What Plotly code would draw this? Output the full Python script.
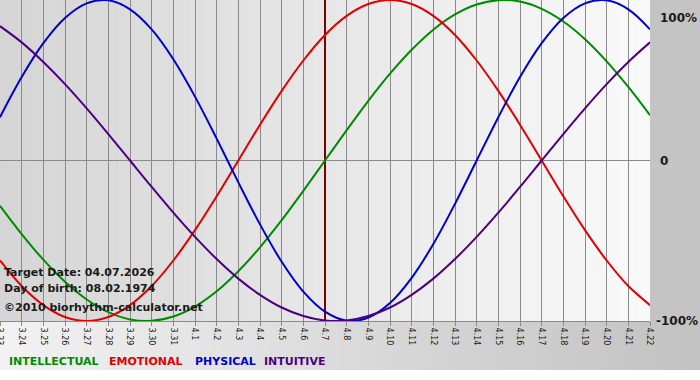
import plotly.graph_objects as go

days = ["3.23", "3.24", "3.25", "3.26", "3.27", "3.28", "3.29", "3.30", "3.31",
        "4.1", "4.2", "4.3", "4.4", "4.5", "4.6", "4.7", "4.8", "4.9", "4.10",
        "4.11", "4.12", "4.13", "4.14", "4.15", "4.16", "4.17", "4.18", "4.19",
        "4.20", "4.21", "4.22"]

physical = [0.270, 0.520, 0.731, 0.888, 0.979, 0.998, 0.942, 0.817, 0.631, 0.398,
            0.136, -0.136, -0.398, -0.631, -0.817, -0.942, -0.998, -0.979, -0.888,
            -0.731, -0.520, -0.270, 0.000, 0.270, 0.520, 0.731, 0.888, 0.979, 0.998,
            0.942, 0.817]

emotional = [-0.623, -0.782, -0.901, -0.975, -1.000, -0.975, -0.901, -0.782, -0.623,
             -0.434, -0.223, 0.000, 0.223, 0.434, 0.623, 0.782, 0.901, 0.975, 1.000,
             0.975, 0.901, 0.782, 0.623, 0.434, 0.223, 0.000, -0.223, -0.434, -0.623,
             -0.782, -0.901]

intellectual = [-0.282, -0.458, -0.618, -0.756, -0.866, -0.945, -0.990, -0.999, -0.972,
                -0.910, -0.815, -0.690, -0.541, -0.372, -0.189, 0.000, 0.189, 0.372,
                0.541, 0.690, 0.815, 0.910, 0.972, 0.999, 0.990, 0.945, 0.866, 0.756,
                0.618, 0.458, 0.282]

intuitive = [0.837, 0.736, 0.614, 0.476, 0.325, 0.165, 0.000, -0.165, -0.325, -0.476,
             -0.614, -0.736, -0.837, -0.916, -0.969, -0.997, -0.997, -0.969, -0.916,
             -0.837, -0.736, -0.614, -0.476, -0.325, -0.165, 0.000, 0.165, 0.325,
             0.476, 0.614, 0.736]

target_label = "4.7"
target_text = "Target Date: 04.07.2026"
birth_text = "Day of birth: 08.02.1974"
credit_text = "\u00a92010 biorhythm-calculator.net"
y_labels = ["100%", "0", "-100%"]
legend_names = ["INTELLECTUAL", "EMOTIONAL", "PHYSICAL", "INTUITIVE"]
colors = {"INTELLECTUAL": "#008a00", "EMOTIONAL": "#e00000",
          "PHYSICAL": "#0000cc", "INTUITIVE": "#4b0082"}

W, H = 700, 380
ML, MR, MT, MB = 0, 50, 0, 59
PW, PH = W - ML - MR, H - MT - MB

x = list(range(len(days)))
n = len(days) - 1

fig = go.Figure()
series = [("INTELLECTUAL", intellectual), ("EMOTIONAL", emotional),
          ("PHYSICAL", physical), ("INTUITIVE", intuitive)]
for name, vals in series:
    fig.add_trace(go.Scatter(x=x, y=vals, mode="lines", name=name,
                             line=dict(color=colors[name], width=2, shape="spline", smoothing=1.0),
                             hoverinfo="skip", showlegend=False))

shapes = []


def lerp(c0, c1, t):
    return int(round(c0 + (c1 - c0) * t))


# plot area gradient (gray left -> white right)
NS = 60
for k in range(NS):
    t = (k + 0.5) / NS
    g = lerp(213, 249, t)
    shapes.append(dict(type="rect", xref="x", yref="paper",
                       x0=n * k / NS, x1=n * (k + 1) / NS + 0.02, y0=0, y1=1,
                       fillcolor=f"rgb({g},{g},{g})", line=dict(width=0), layer="below"))

# right gray panel
shapes.append(dict(type="rect", xref="paper", yref="paper", x0=1, x1=W / PW + 0.01,
                   y0=0, y1=1.01, fillcolor="#c4c4c4", line=dict(width=0), layer="below"))

# bottom strip gradient (light left -> gray right)
strip_bottom = -49 / PH
for k in range(NS):
    t = (k + 0.5) / NS
    g = lerp(242, 194, t)
    x0 = (W / PW) * k / NS
    x1 = (W / PW) * (k + 1) / NS + 0.002
    shapes.append(dict(type="rect", xref="paper", yref="paper", x0=x0, x1=x1,
                       y0=strip_bottom, y1=0, fillcolor=f"rgb({g},{g},{g})",
                       line=dict(width=0), layer="below"))

# target date line
ti = days.index(target_label)
shapes.append(dict(type="line", xref="x", yref="y", x0=ti, x1=ti, y0=-1, y1=1,
                   line=dict(color="#800000", width=2), layer="between"))

annotations = []
txt_font = dict(family="DejaVu Sans", size=11, color="#1a1a1a")
for txt, ypx in [(target_text, 272), (birth_text, 288), (credit_text, 307)]:
    annotations.append(dict(text=f"<b>{txt}</b>", xref="paper", yref="paper",
                            x=0, y=1 - ypx / PH, xanchor="left", yanchor="middle",
                            xshift=2, showarrow=False, font=txt_font))

rfont = dict(family="DejaVu Sans", size=12, color="#1a1a1a")
for txt, ypx, xs in [(y_labels[0], 18, 8), (y_labels[1], 161, 8), (y_labels[2], 321, 4)]:
    annotations.append(dict(text=f"<b>{txt}</b>", xref="paper", yref="paper",
                            x=1, y=1 - ypx / PH, xanchor="left", yanchor="middle",
                            xshift=xs, showarrow=False, font=rfont))

leg_x = [7, 107, 193, 262]
for name, lx in zip(legend_names, leg_x):
    annotations.append(dict(text=f"<b>{name}</b>", xref="paper", yref="paper",
                            x=lx / PW, y=(PH - 362) / PH, xanchor="left", yanchor="middle",
                            showarrow=False,
                            font=dict(family="DejaVu Sans", size=11, color=colors[name])))

fig.update_layout(
    width=W, height=H,
    margin=dict(l=ML, r=MR, t=MT, b=MB, pad=0, autoexpand=False),
    paper_bgcolor="#ffffff",
    plot_bgcolor="rgba(0,0,0,0)",
    shapes=shapes,
    annotations=annotations,
    showlegend=False,
    hovermode=False,
    xaxis=dict(range=[0, n], tickmode="array", tickvals=x, ticktext=days,
               tickangle=90, showgrid=True, gridcolor="#8a8a8a", gridwidth=1,
               ticks="outside", ticklen=4, tickcolor="#8a8a8a",
               showline=True, linecolor="#8a8a8a", linewidth=1,
               zeroline=False, fixedrange=True, ticklabeloverflow="allow",
               automargin=False,
               tickfont=dict(family="DejaVu Sans", size=8, color="#1a1a1a")),
    yaxis=dict(range=[-1, 1], showgrid=False, showticklabels=False,
               zeroline=True, zerolinecolor="#8a8a8a", zerolinewidth=1,
               showline=False, fixedrange=True, automargin=False),
)

fig.write_html("out.html", config={"displayModeBar": False, "staticPlot": True},
               post_script="document.body.style.margin='0';document.body.style.padding='0';")
